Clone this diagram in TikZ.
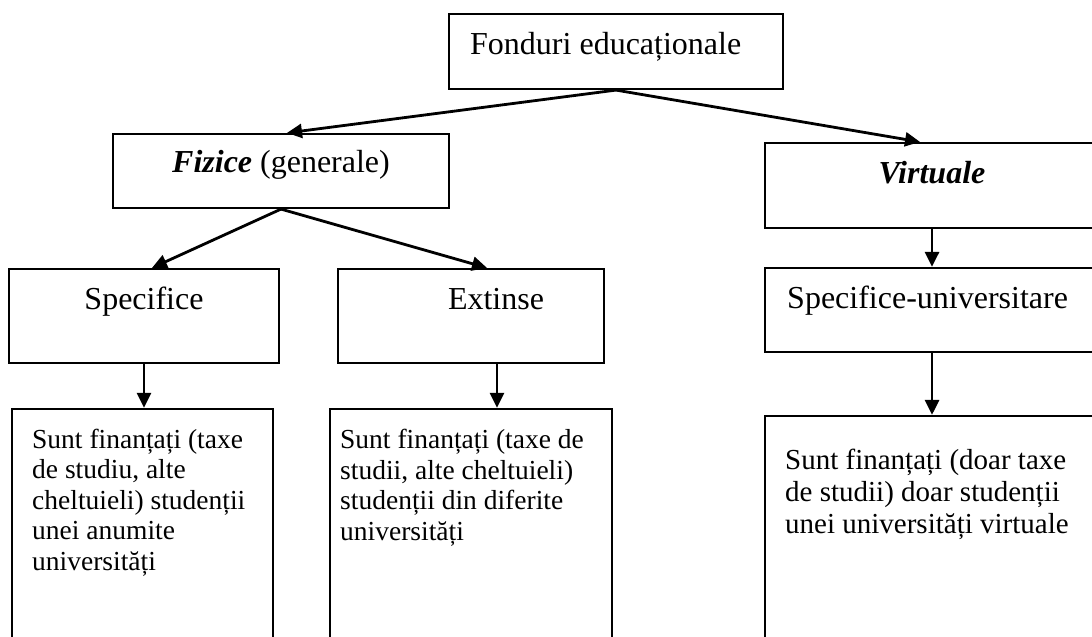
\documentclass[tikz,border=0pt]{standalone}
\usepackage{fontspec}
\setmainfont{Liberation Serif}
\usetikzlibrary{arrows.meta}

\begin{document}
\begin{tikzpicture}[x=1pt,y=-1pt,
  box/.style={draw,line width=2.2pt,inner sep=0pt},
  big/.style={font=\fontsize{32}{38}\selectfont,inner sep=0pt},
  small/.style={font=\fontsize{27.5}{30.5}\selectfont,inner sep=0pt,align=left},
  arr/.style={line width=2.8pt,-{Triangle[length=15pt,width=14pt]}}]
\useasboundingbox (0,0) rectangle (1092,637);
\clip (0,0) rectangle (1092,637);

% boxes
\node[box,minimum width=334pt,minimum height=75pt] (fond) at (616,51.5) {};
\node[box,minimum width=336pt,minimum height=74pt] (fiz) at (281,171) {};
\node[box,minimum width=334pt,minimum height=85pt] (vir) at (932,185.5) {};
\node[box,minimum width=270pt,minimum height=94pt] (spec) at (144,316) {};
\node[box,minimum width=266pt,minimum height=94pt] (ext) at (471,316) {};
\node[box,minimum width=334pt,minimum height=84pt] (specu) at (932,310) {};
\node[box,minimum width=261pt,minimum height=291pt] (bspec) at (142.5,554.5) {};
\node[box,minimum width=282pt,minimum height=291pt] (bext) at (471,554.5) {};
\node[box,minimum width=334pt,minimum height=284pt] (bvir) at (932,558) {};

% texts (base = last line)
\node[big,anchor=base west] (fondt) at (470,54) {Fonduri educaționale};
\node[big,anchor=base] (fizt) at (281,172) {\textbf{\textit{Fizice}} (generale)};
\node[big,anchor=base] (virt) at (932,183) {\textbf{\textit{Virtuale}}};
\node[big,anchor=base] (spect) at (144,309) {Specifice};
\node[big,anchor=base] (extt) at (496,309) {Extinse};
\node[big,anchor=base west] (specut) at (787,308) {Specifice-universitare};
\node[small,anchor=base west] (bspect) at (32,570) {Sunt finanțați (taxe\\de studiu, alte\\cheltuieli) studenții\\unei anumite\\universități};
\node[small,anchor=base west] (bextt) at (340,540) {Sunt finanțați (taxe de\\studii, alte cheltuieli)\\studenții din diferite\\universități};
\node[small,anchor=base west,font=\fontsize{29}{32}\selectfont] (bvirt) at (785,533) {Sunt finanțați (doar taxe\\de studii) doar studenții\\unei universități virtuale};

% arrows
\draw[arr] (fond.south) -- ([xshift=6pt]fiz.north);
\draw[arr] (fond.south) -- ([xshift=-12pt]vir.north);
\draw[arr] (fiz.south) -- ([xshift=8pt]spec.north);
\draw[arr] (fiz.south) -- ([xshift=16pt]ext.north);
\draw[arr] (spec.south) -- (spec.south |- bspec.north);
\draw[arr] ([xshift=26pt]ext.south) -- ([xshift=26pt]ext.south |- bext.north);
\draw[arr] (vir.south) -- (specu.north);
\draw[arr] (specu.south) -- (bvir.north);
\end{tikzpicture}
\end{document}
